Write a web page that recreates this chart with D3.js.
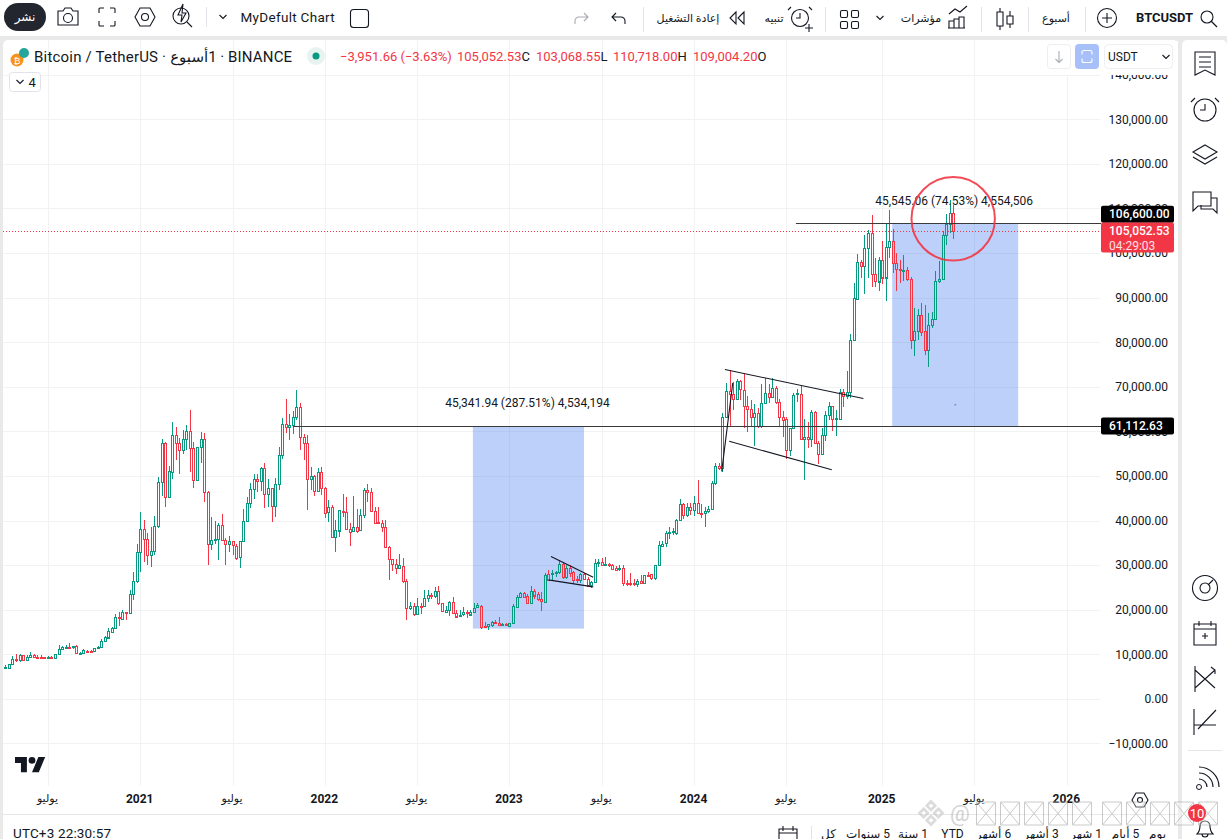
<!DOCTYPE html>
<html>
<head>
<meta charset="utf-8">
<title>BTCUSDT</title>
<script src="https://cdn.jsdelivr.net/npm/d3@7"></script>
<style>
  html, body { margin: 0; padding: 0; background: #e9e9e9; overflow: hidden; }
  svg { display: block; font-family: Roboto, "DejaVu Sans", sans-serif; }
  text { fill: #131722; }
</style>
</head>
<body>
<svg id="chart" width="1227" height="839"></svg>
<script>
// weekly candles, 268 of them
var weekOpen = [
  7000,7000,7800,8900,8600,9800,8700,9300,9800,9500,
  9500,9300,9100,9400,9100,10000,11100,11600,11700,11700,
  11800,10100,10200,10830,10800,10700,11600,11600,12900,13800,
  15000,15900,18300,18000,19500,19200,23500,26300,32900,38100,
  35900,32300,33200,38800,48700,57400,45200,50900,59100,57400,
  55800,58300,60100,56300,49100,56500,58300,46400,34700,35600,
  35900,39000,35600,34700,35400,34400,31700,35400,39900,43900,
  47100,49300,48800,51800,45900,47300,43200,48200,54700,61700,
  61000,61500,63300,65500,58800,57400,49300,50000,46600,50900,
  47300,41800,43000,36200,37800,42200,42000,38200,37500,38500,
  37800,41200,46900,46400,42100,39700,39400,38500,34000,31300,
  30200,29400,29900,26500,20400,20900,19100,20800,20700,22600,
  23300,23000,24200,21400,19600,20000,21800,19300,18600,18900,
  19400,19000,19600,20500,20900,16300,16300,16500,17200,17050,
  16500,16700,16350,17050,20650,22800,23650,23050,21550,24300,
  23500,22300,21850,28100,27950,28300,28350,30250,27250,29400,
  28450,26850,26650,28000,27000,25500,26250,30400,30600,30000,
  30150,30000,29350,29050,29350,26100,26100,26050,25800,26500,
  26100,27900,28000,27000,30000,34400,34850,37050,37350,37250,
  40200,43800,41300,43000,42250,43900,41650,41650,42100,42550,
  48500,52150,51800,63230,69000,68300,67250,71250,69200,65600,
  65000,63200,64100,61100,66350,68600,67700,69750,66500,63200,
  62750,55750,60750,68250,68400,58250,58650,58250,64350,57400,
  54850,59200,63650,65700,62750,62850,68900,68000,68900,80600,
  89700,98000,97100,101100,104550,95300,93650,98500,94550,101400,
  102800,97800,96400,96100,96300,94250,80550,82550,86200,82550,
  78350,83750,85200,93650,94200,104000,106500,109004.2
];
var weekHigh = [
  7600,7900,9600,10100,10100,9900,9800,10500,10100,9800,
  9800,9400,9600,9600,10000,12000,11900,12000,12500,11800,
  12000,10500,11200,11000,11000,11500,11900,13500,14100,15800,
  16200,19100,19400,20000,19500,24500,28500,34800,42000,40200,
  37100,38600,41100,49800,58300,57700,52300,62000,60900,58500,
  60400,61500,64900,57700,56500,59800,59700,46600,40900,39800,
  39500,41500,36000,36600,35400,34800,35400,42700,45300,48400,
  50400,50500,52000,52900,49300,47300,49500,56500,63100,67200,
  63800,64500,69200,66400,59500,59100,52000,50200,51800,52000,
  47500,44700,43500,40100,42400,45900,45200,39400,45500,42600,
  42600,47200,48200,47200,43000,43000,40100,40100,34200,31300,
  31300,32500,31700,26900,21700,21400,22600,21500,24400,24500,
  23800,25100,25300,21500,20800,22000,22800,19900,20000,20600,
  19900,19900,21500,21500,21000,17300,16750,17500,17650,18400,
  17000,17050,17050,21200,23350,24000,24000,23500,25300,24750,
  24000,24000,28150,29000,28900,28750,31100,30750,30100,30000,
  28600,27550,28150,28150,27250,26500,31300,31300,31600,31750,
  30450,30150,29800,30000,30100,26650,28200,26800,26800,27750,
  27900,28500,28050,30050,35450,35450,37750,38650,38300,40400,
  44800,43900,44050,44050,45550,49100,43750,43150,43300,48800,
  52900,52900,64130,70880,73860,71000,71770,71600,72970,67850,
  66950,66200,65200,70700,72000,70700,72000,70250,67250,64500,
  63200,60750,68650,69600,70100,62750,62200,64850,64500,57900,
  60750,64500,66600,65700,64800,69500,69600,73600,81750,93300,
  99700,98500,104000,105250,108450,98900,99050,102800,106550,109650,
  105350,100000,98500,99650,96800,94600,87650,87550,88800,88400,
  86600,86800,95900,98150,105050,108650,111950,110718
];
var weekLow = [
  6600,6800,7600,8300,8300,8500,8500,9100,9200,9000,
  9000,8900,8900,9200,9000,9900,11100,11300,11400,11300,
  10000,9900,10100,10400,10600,10600,11300,11500,12800,13400,
  14700,15600,16400,17900,17700,19200,22100,26000,28400,30600,
  30000,29500,32300,38300,45600,43100,45200,49400,53500,50500,
  55000,55800,51000,47200,49100,53000,44100,30100,33500,34700,
  31200,35500,30000,32900,32300,31200,29400,35300,39900,42900,
  44800,46300,46600,42900,43000,39700,40900,46900,53800,59700,
  58000,59500,62500,55800,53500,42300,46800,45600,46300,45700,
  40600,39700,36000,33000,36400,40900,38000,34300,37500,37300,
  37800,40600,44200,42100,39200,39200,37400,33900,26600,28600,
  28100,29300,26100,17700,19900,18600,19100,19100,20700,21700,
  22500,22700,21100,19400,19400,18600,19100,18300,18500,18700,
  18100,18600,19300,20300,15700,15900,15400,16200,16700,16600,
  16450,16350,16350,17050,20500,22600,22600,21500,21550,22300,
  22000,19750,21850,26650,26650,27400,28100,27000,27000,27400,
  25750,25900,25900,26950,25150,24850,26200,29650,29800,29800,
  29650,29050,28750,28750,25350,25350,25350,25350,25000,25900,
  26050,27250,26650,26650,29950,34050,34050,35800,36700,36750,
  40000,40450,40700,41300,41000,41600,40550,38650,41650,42400,
  48050,51400,51000,63000,61000,64700,66950,66950,60750,59800,
  61150,56650,60750,60750,66300,66350,67500,66250,61000,58700,
  53800,54400,60500,66500,58200,49150,56200,56600,57400,52750,
  54850,57750,62600,60000,59000,62850,65400,67250,67500,80400,
  89550,94300,90800,94300,92300,92300,91550,93050,89300,98900,
  95500,91400,93300,93650,93800,78450,76800,80550,81500,77150,
  74550,83300,85050,93300,93850,101900,104500,103068.55
];
var weekClose = [
  7200,7800,8900,8700,9800,8600,9300,9800,9300,9300,
  9300,9100,9300,9300,10000,11100,11600,11700,11600,11800,
  10200,10200,10900,10750,10700,11400,11700,12900,13800,15300,
  15900,18300,18200,19500,19400,23500,26400,32900,38100,35900,
  32300,33200,38800,48700,57400,45200,51100,59100,57400,55800,
  58300,60100,56200,49100,56500,58300,46400,34700,35600,35900,
  39000,35600,34700,35400,34400,31700,35400,39900,43900,47100,
  49300,48800,51800,45900,47300,43200,48200,54700,61700,61000,
  61500,63300,65500,58800,57400,49300,50000,46600,50900,47200,
  41800,43000,36200,37800,42400,42000,38200,37500,38500,37500,
  41200,46900,46400,42100,39500,39500,38500,34000,31300,30200,
  29400,30000,26500,20400,20900,19000,20800,20700,22600,23200,
  23000,24200,21400,19600,20000,21800,19300,18500,18900,19400,
  19300,19600,20500,21000,16200,16150,16750,17200,17000,16600,
  16700,16500,17050,20800,22900,23700,22800,21550,24300,23250,
  22300,21850,27900,26650,28200,28500,30250,27250,29250,28300,
  26650,26550,28000,26950,25500,26250,30400,30600,30000,30150,
  30000,29100,28900,29350,26050,25800,25800,25800,26550,26050,
  27900,27700,27000,30000,34500,34850,37150,37350,37550,40200,
  43800,41300,43000,42250,43900,41650,41600,42050,42550,48400,
  52250,51800,63230,69080,68300,67250,71250,69350,65600,65000,
  63200,64100,61100,66350,68600,67700,69750,66500,63200,62600,
  55750,60750,68250,68500,58250,58650,58250,64350,57400,54850,
  59200,63650,65700,62750,62900,68900,68000,68900,80600,90000,
  98000,97100,101100,104550,95300,93650,98500,94550,101400,102800,
  97800,96400,96100,96300,94250,80550,82550,86200,82400,78350,
  83900,85200,93650,94200,104000,106500,108950,105052.53
];

var timeTickWeeks = [12, 38, 64, 90, 116, 142, 168, 194, 220, 247, 273, 299];
var timeTickLabels = ["يوليو", "2021", "يوليو", "2022", "يوليو", "2023", "يوليو", "2024", "يوليو", "2025", "يوليو", "2026"];
var priceTicks = [-10000, 0, 10000, 20000, 30000, 40000, 50000, 60000, 70000, 80000, 90000, 100000, 110000, 120000, 130000, 140000];

// drawings, [week, price]
var trendLines = [
  [[153.7, 31930], [165.6, 27300]],
  [[152.95, 26690], [165.6, 25120]],
  [[202.7, 73880], [241.7, 67360]],
  [[203.9, 57770], [232.8, 51410]],
  [[201.8, 51030], [204.9, 70890]]
];
var positionWeeks = [[131.7, 163], [249.8, 285.3]];
var positionTops = [61112.63, 106600];
var positionBottoms = [15770.69, 61054.94];
var positionTexts = ["45,341.94 (287.51%) 4,534,194", "45,545.06 (74.53%) 4,554,506"];
var levelPrices = [61112.63, 106600];
var levelStartWeeks = [81, 222.7];
var lastPrice = 105052.53;

var rangeLabels = ["يوم", "أيام \u200E5", "شهر \u200E1", "أشهر \u200E3", "أشهر \u200E6", "YTD", "سنة \u200E1", "سنوات \u200E5", "كل"];
var rangeLabelX = [1157.5, 1125.5, 1086, 1041, 993.5, 952.5, 913, 868, 828.5];

var green = "#089981";
var red = "#F23645";
var ink = "#131722";

var svg = d3.select("#chart");

var x = d3.scaleLinear().domain([0, 299]).range([5.33, 1066.8]);
var y = d3.scaleLinear().domain([0, 130000]).range([698.9, 119.3]);

// panels
svg.append("rect").attr("width", 1227).attr("height", 36).attr("fill", "#fff");
svg.append("rect").attr("x", 3).attr("y", 40).attr("width", 1175).attr("height", 810).attr("rx", 5).attr("fill", "#fff");
svg.append("rect").attr("x", 1182).attr("y", 40).attr("width", 45).attr("height", 810).attr("rx", 5).attr("fill", "#fff");
svg.append("line").attr("x1", 3).attr("x2", 1178).attr("y1", 814.5).attr("y2", 814.5).attr("stroke", "#e6e6e6");

// grid
svg.append("g").selectAll("line").data(priceTicks).join("line")
  .attr("x1", 3).attr("x2", 1100)
  .attr("y1", function(d) { return Math.round(y(d)) + 0.5; })
  .attr("y2", function(d) { return Math.round(y(d)) + 0.5; })
  .attr("stroke", "#f1f2f4");

svg.append("g").selectAll("line").data(timeTickWeeks).join("line")
  .attr("x1", function(d) { return Math.round(x(d)) + 0.5; })
  .attr("x2", function(d) { return Math.round(x(d)) + 0.5; })
  .attr("y1", 40).attr("y2", 786)
  .attr("stroke", "#f1f2f4");

// blue position boxes, under the candles
svg.append("g").selectAll("rect").data(positionWeeks).join("rect")
  .attr("x", function(d) { return x(d[0]); })
  .attr("width", function(d) { return x(d[1]) - x(d[0]); })
  .attr("y", function(d, i) { return y(positionTops[i]); })
  .attr("height", function(d, i) { return y(positionBottoms[i]) - y(positionTops[i]); })
  .attr("fill", "#2563eb")
  .attr("fill-opacity", 0.3);

// candles
var candles = svg.append("g").attr("shape-rendering", "crispEdges");
var weeks = d3.range(weekOpen.length);

function candleColor(i) {
  return weekClose[i] >= weekOpen[i] ? green : red;
}
function cx(i) {
  return Math.round(x(i)) + 0.5;
}

candles.selectAll("line.hi").data(weeks).join("line")
  .attr("class", "hi")
  .attr("x1", cx).attr("x2", cx)
  .attr("y1", function(i) { return y(weekHigh[i]); })
  .attr("y2", function(i) { return y(Math.max(weekOpen[i], weekClose[i])); })
  .attr("stroke", candleColor);

candles.selectAll("line.lo").data(weeks).join("line")
  .attr("class", "lo")
  .attr("x1", cx).attr("x2", cx)
  .attr("y1", function(i) { return y(Math.min(weekOpen[i], weekClose[i])); })
  .attr("y2", function(i) { return y(weekLow[i]); })
  .attr("stroke", candleColor);

candles.selectAll("rect").data(weeks).join("rect")
  .attr("x", function(i) { return cx(i) - 1; })
  .attr("width", 2)
  .attr("y", function(i) { return Math.round(y(Math.max(weekOpen[i], weekClose[i]))) + 0.5; })
  .attr("height", function(i) { return Math.max(1, Math.round(Math.abs(y(weekOpen[i]) - y(weekClose[i])))); })
  .attr("fill", "none")
  .attr("stroke", candleColor);

// drawings on top
svg.append("line")
  .attr("x1", 3).attr("x2", 1100)
  .attr("y1", Math.round(y(lastPrice)) + 0.5).attr("y2", Math.round(y(lastPrice)) + 0.5)
  .attr("stroke", red)
  .attr("stroke-dasharray", "1 2");

svg.append("g").selectAll("line").data(levelPrices).join("line")
  .attr("x1", function(d, i) { return x(levelStartWeeks[i]); })
  .attr("x2", 1101)
  .attr("y1", function(d) { return Math.floor(y(d)) + 0.5; })
  .attr("y2", function(d) { return Math.floor(y(d)) + 0.5; })
  .attr("stroke", "#3a3a3a");

svg.append("g").selectAll("line").data(trendLines).join("line")
  .attr("x1", function(d) { return x(d[0][0]); })
  .attr("y1", function(d) { return y(d[0][1]); })
  .attr("x2", function(d) { return x(d[1][0]); })
  .attr("y2", function(d) { return y(d[1][1]); })
  .attr("stroke", ink)
  .attr("stroke-width", 1.1);

svg.append("g").selectAll("text").data(positionTexts).join("text")
  .attr("x", function(d, i) { return (x(positionWeeks[i][0]) + x(positionWeeks[i][1])) / 2 - 1; })
  .attr("y", function(d, i) { return y(positionTops[i]) - 19; })
  .attr("text-anchor", "middle")
  .attr("font-size", 12)
  .text(function(d) { return d; });

svg.append("circle")
  .attr("cx", x(267)).attr("cy", y(107680)).attr("r", 41.7)
  .attr("fill", "none").attr("stroke", red).attr("stroke-width", 2).attr("stroke-opacity", 0.9);
svg.append("circle")
  .attr("cx", x(267.6)).attr("cy", y(66000)).attr("r", 1)
  .attr("fill", "#6f97e6");

// logo
svg.append("g").attr("transform", "translate(15,753.6) scale(0.85)")
  .html('<path d="M14 22H7V11H0V4h14v18zM28 22h-8l7.5-18h8L28 22z" fill="#131722"/><circle cx="20" cy="8" r="4" fill="#131722"/>');

// price axis
var yAxis = d3.axisLeft(y).tickValues(priceTicks).tickSize(0).tickPadding(0).tickFormat(d3.format(",.2f"));
var yg = svg.append("g").attr("transform", "translate(1168,0)").call(yAxis);
yg.select(".domain").remove();
yg.selectAll("text").attr("font-size", 12).attr("font-family", "Roboto").style("fill", "#131722");

// time axis
var xAxis = d3.axisBottom(x).tickValues(timeTickWeeks).tickSize(0).tickPadding(0)
  .tickFormat(function(d, i) { return timeTickLabels[i]; });
var xg = svg.append("g").attr("transform", "translate(-1,794)").call(xAxis);
xg.select(".domain").remove();
xg.selectAll("text")
  .attr("font-size", function(d, i) { return i % 2 == 0 ? 11 : 12; })
  .attr("font-family", "Roboto, 'DejaVu Sans'")
  .attr("font-weight", function(d, i) { return i % 2 == 0 ? 400 : 700; })
  .style("fill", "#131722");

// white strip that cuts the top axis label
svg.append("rect").attr("x", 1040).attr("y", 41).attr("width", 138).attr("height", 34).attr("fill", "#fff");

// price labels
function priceTag(price, top, h, bg, lines) {
  var g = svg.append("g");
  g.append("rect").attr("x", 1101).attr("y", top).attr("width", 73).attr("height", h).attr("fill", bg)
    .attr("rx", 2);
  lines.forEach(function(s, i) {
    g.append("text").attr("x", 1109).attr("y", top + 12.5 + i * 14.5)
      .attr("font-size", 12).attr("font-weight", i == 0 ? 500 : 400)
      .style("fill", i == 0 ? "#fff" : "#fde0e3").text(s);
  });
}
priceTag(106600, y(106600) - 18, 17, "#000", [d3.format(",.2f")(106600)]);
priceTag(lastPrice, y(lastPrice) - 8, 30, "#F23645", [d3.format(",.2f")(lastPrice), "04:29:03"]);
priceTag(61112.63, y(61112.63) - 9, 17, "#000", [d3.format(",.2f")(61112.63)]);

// legend
svg.append("circle").attr("cx", 17).attr("cy", 60).attr("r", 6.5).attr("fill", "#f7931a");
svg.append("text").attr("x", 17).attr("y", 63.5).attr("text-anchor", "middle").attr("font-size", 9).style("fill", "#fff").text("₿");
svg.append("circle").attr("cx", 24).attr("cy", 53).attr("r", 5).attr("fill", "#26a69a");

svg.append("text").attr("x", 34).attr("y", 62).attr("font-size", 15).attr("letter-spacing", 0.2)
  .attr("font-family", "Roboto, 'DejaVu Sans'")
  .text("Bitcoin / TetherUS · أسبوع\u200E1 · BINANCE");

svg.append("circle").attr("cx", 316).attr("cy", 56).attr("r", 9).attr("fill", "#e6f3f1");
svg.append("circle").attr("cx", 316).attr("cy", 56).attr("r", 3.5).attr("fill", green);

function legendValue(px, value, letter) {
  var t = svg.append("text").attr("x", px).attr("y", 61).attr("font-size", 13);
  t.append("tspan").style("fill", red).text(value);
  if (letter) t.append("tspan").text(letter);
}
legendValue(340, "−3,951.66 (−3.63%)");
legendValue(457, "105,052.53", "C");
legendValue(536, "103,068.55", "L");
legendValue(613, "110,718.00", "H");
legendValue(693, "109,004.20", "O");

svg.append("rect").attr("x", 9.5).attr("y", 72.5).attr("width", 31).attr("height", 19).attr("rx", 3)
  .attr("fill", "#fff").attr("stroke", "#e0e3eb");
svg.append("text").attr("x", 28.5).attr("y", 86.5).attr("font-size", 13).text("4");

// icons
function icon(px, py, d, color, width) {
  return svg.append("path").attr("transform", "translate(" + px + "," + py + ")").attr("d", d)
    .attr("fill", "none").attr("stroke", color || ink).attr("stroke-width", width || 1.1);
}
function ring(px, py, r, color) {
  return svg.append("circle").attr("cx", px).attr("cy", py).attr("r", r)
    .attr("fill", "none").attr("stroke", color || ink).attr("stroke-width", 1.1);
}
function chevron(px, py) {
  icon(px, py, "M-3.5,-2 L0,1.5 L3.5,-2");
}

chevron(20, 82);

svg.append("rect").attr("x", 4).attr("y", 3).attr("width", 42).attr("height", 28).attr("rx", 14).attr("fill", "#23262f");
svg.append("text").attr("x", 25).attr("y", 21).attr("text-anchor", "middle").attr("font-size", 12).style("fill", "#fff").text("نشر");

icon(68, 17, "M-10,-6 h5 l2,-3 h6 l2,3 h5 v14 h-20 z");
ring(68, 18, 4.5);
icon(107, 17, "M-8,-4 v-4 q0,-1 1,-1 h4 M3,-9 h4 q1,0 1,1 v4 M8,4 v4 q0,1 -1,1 h-4 M-3,9 h-4 q-1,0 -1,-1 v-4");
icon(145, 17, "M-10,0 L-5,-9 H5 L10,0 L5,9 H-5 Z");
ring(145, 17, 3.5);
ring(181, 16, 8);
icon(182, 16, "M1,-12 L-4,-1 h4 l-1,7 l5,-9 h-4 z");
icon(182, 16, "M5,6 L10,11");
svg.append("line").attr("x1", 206.5).attr("x2", 206.5).attr("y1", 7).attr("y2", 27).attr("stroke", "#e0e3eb");
chevron(223, 17);
svg.append("text").attr("x", 240.5).attr("y", 22).attr("font-size", 13.5).attr("letter-spacing", 0.3).text("MyDefult Chart");
svg.append("rect").attr("x", 350.5).attr("y", 9.5).attr("width", 18).attr("height", 18).attr("rx", 3)
  .attr("fill", "none").attr("stroke", ink).attr("stroke-width", 1.1);

icon(581, 18, "M-6,6 v-3 a4,4 0 0 1 4,-4 h9 M3,-5 l4,4 l-4,4", "#a9acb4");
icon(619, 18, "M6,6 v-3 a4,4 0 0 0 -4,-4 h-9 M-3,-5 l-4,4 l4,4");

[643, 825, 981, 1028, 1085].forEach(function(d) {
  svg.append("line").attr("x1", d + 0.5).attr("x2", d + 0.5).attr("y1", 7).attr("y2", 32).attr("stroke", "#e0e3eb");
});

function toolText(px, s, size, weight) {
  svg.append("text").attr("x", px).attr("y", 22).attr("text-anchor", "middle")
    .attr("font-size", size || 11).attr("font-weight", weight || 400)
    .attr("font-family", "Roboto, 'DejaVu Sans'").text(s);
}
toolText(688, "إعادة التشغيل");
icon(737, 18, "M-1,-6 L-7,0 L-1,6 Z M7,-6 L1,0 L7,6 Z");
toolText(774, "تنبيه");
ring(800, 18, 8.5);
icon(800, 18, "M0,-5 v5 h-4 M-9,-11 l-3,3 M9,-11 l3,3 M5,10 h8 M9,6 v8");
[840, 851].forEach(function(a) {
  [10, 21].forEach(function(b) {
    svg.append("rect").attr("x", a + 0.5).attr("y", b + 0.5).attr("width", 7).attr("height", 7).attr("rx", 1.5)
      .attr("fill", "none").attr("stroke", ink).attr("stroke-width", 1.1);
  });
});
chevron(880, 18);
toolText(921, "مؤشرات");
icon(958, 18, "M-9,-4 L-3,-9 L2,-6 L9,-12 M-9,10 v-7 h5 v7 M-4,10 v-9 h5 v9 M1,10 v-11 h5 v11 M-10,10 h17");
icon(1005, 18, "M-5,-10 v4 M-5,8 v4 M-8,-6 h6 v14 h-6 z M5,-7 v5 M5,6 v4 M2,-2 h6 v8 h-6 z");
toolText(1056, "أسبوع");
ring(1107, 18, 9.5);
icon(1107, 18, "M-5,0 h10 M0,-5 v10");
svg.append("text").attr("x", 1136).attr("y", 22).attr("font-size", 13).attr("font-weight", 700).text("BTCUSDT");
ring(1207, 17, 6);
icon(1207, 17, "M4,4 L10,10", ink, 1.3);

// top right widgets
svg.append("rect").attr("x", 1047.5).attr("y", 44.5).attr("width", 23).attr("height", 24).attr("rx", 3)
  .attr("fill", "#fff").attr("stroke", "#eceef2");
icon(1059, 57, "M0,-6 v11 M-3.5,2 L0,5.5 L3.5,2", "#a9acb4");
svg.append("rect").attr("x", 1075).attr("y", 44).attr("width", 24).attr("height", 25).attr("rx", 4).attr("fill", "#a8c0fa");
icon(1087, 56.5, "M-5,-2 v-2 q0,-2 2,-2 h6 q2,0 2,2 v2 M5,2 v2 q0,2 -2,2 h-6 q-2,0 -2,-2 v-2", "#fff");
svg.append("rect").attr("x", 1104.5).attr("y", 44.5).attr("width", 68).attr("height", 24).attr("rx", 4)
  .attr("fill", "#fff").attr("stroke", "#eceef2");
svg.append("text").attr("x", 1108).attr("y", 61).attr("font-size", 12).text("USDT");
chevron(1166, 57);

// right toolbar
icon(1205, 63, "M-10,-11 h20 v23 l-10,-5 l-10,5 z M-6,-6 h12 M-6,-1 h12 M-6,4 h12");
ring(1205, 110, 11);
icon(1205, 110, "M0,-6 v6 h-5 M-10,-12 l-4,4 M10,-12 l4,4");
icon(1205, 155, "M0,-10 L12,-3 L0,4 L-12,-3 Z M-12,2 L0,9 L12,2");
icon(1205, 203, "M-12,-11 h18 v14 h-13 l-5,5 z M6,-5 h6 v15 l-4,-4 h-12 v-4");
ring(1205, 588, 12.5);
ring(1205, 588, 5);
icon(1205, 588, "M3,-3 L8,-8");
icon(1205, 634, "M-11,-10 h22 v21 h-22 z M-6,-13 v5 M6,-13 v5 M-11,-5 h22 M-3,2 h6 M0,-1 v6");
icon(1205, 679, "M-10,-13 v26 M-10,-9 L10,9 M-10,9 L10,-9 M6,-12 L10,-9 L10,-5");
icon(1205, 722, "M-11,-13 v26 M-11,3 h22 M-7,7 L11,-12");
svg.append("line").attr("x1", 1188).attr("x2", 1222).attr("y1", 750.5).attr("y2", 750.5).attr("stroke", "#e6e6e6");
svg.append("circle").attr("cx", 1199).attr("cy", 787).attr("r", 2.5).attr("fill", "none").attr("stroke", ink);
icon(1199, 787, "M0,-8 a8,8 0 0 1 8,8 M0,-14 a14,14 0 0 1 14,14 M0,-20 a20,20 0 0 1 20,20", ink, 1.2);
icon(1205, 830, "M-8,4 q3,-3 3,-8 a5,5 0 0 1 10,0 q0,5 3,8 z M-3,4 a3,3 0 0 0 6,0");

// bottom bar
svg.append("text").attr("x", 13).attr("y", 837.5).attr("font-size", 13.5).attr("letter-spacing", 0.15).text("UTC+3 22:30:57");
icon(788, 835, "M-9,-6 h18 v14 h-18 z M-5,-9 v5 M5,-9 v5 M-9,-2 h18");
svg.append("line").attr("x1", 811.5).attr("x2", 811.5).attr("y1", 826).attr("y2", 839).attr("stroke", "#e0e3eb");
svg.append("g").selectAll("text").data(rangeLabels).join("text")
  .attr("x", function(d, i) { return rangeLabelX[i]; })
  .attr("y", 837.5)
  .attr("text-anchor", "middle")
  .attr("font-size", 12)
  .attr("font-family", "Roboto, 'DejaVu Sans'")
  .text(function(d) { return d; });

icon(1140, 800, "M-8,0 L-4,-7 H4 L8,0 L4,7 H-4 Z");
ring(1140, 800, 2.5);

// watermark
var mark = svg.append("g").attr("opacity", 0.6);
mark.append("path").attr("transform", "translate(931,813) scale(1.05)")
  .attr("d", "M0,-11 L4,-7 L0,-3 L-4,-7 Z M-7,-4 L-3,0 L-7,4 L-11,0 Z M7,-4 L11,0 L7,4 L3,0 Z M0,3 L4,7 L0,11 L-4,7 Z")
  .attr("fill", "#fff").attr("stroke", "#c4c4c4").attr("stroke-width", 2.5);
mark.append("text").attr("x", 960).attr("y", 821).attr("text-anchor", "middle").attr("font-size", 22)
  .style("fill", "#b5b5b5").text("@");
[986, 1010, 1034, 1058, 1082, 1112, 1136, 1160, 1184, 1208].forEach(function(d) {
  mark.append("path").attr("transform", "translate(" + d + ",813.5)")
    .attr("d", "M-9.5,-11.5 h19 v23 h-19 z M-9.5,-11.5 L9.5,11.5 M9.5,-11.5 L-9.5,11.5")
    .attr("fill", "#fff").attr("fill-opacity", 0.5).attr("stroke", "#a8a8a8");
});

svg.append("circle").attr("cx", 1197).attr("cy", 813).attr("r", 9).attr("fill", red);
svg.append("text").attr("x", 1197).attr("y", 818).attr("text-anchor", "middle").attr("font-size", 13).style("fill", "#fff").text("10");
</script>
</body>
</html>
